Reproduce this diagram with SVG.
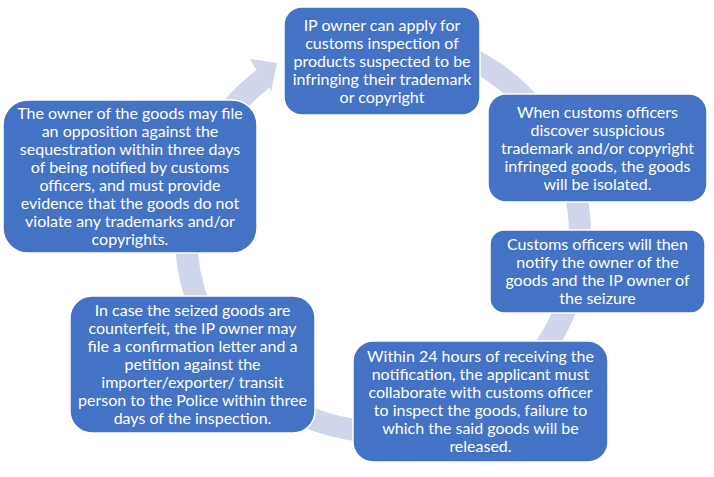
<svg xmlns="http://www.w3.org/2000/svg" width="714" height="477" viewBox="0 0 714 477">
<style>
.box{fill:#4472C4;stroke:#FFFFFF;stroke-width:1.5}
.t{font-family:Lato,"Liberation Sans",sans-serif;font-size:16px;fill:#FFFFFF;text-anchor:middle}
.ring{fill:none;stroke:#CFD5EA;stroke-width:22}
</style>
<rect width="714" height="477" fill="#FFFFFF"/>
<g id="connectors">
<path class="ring" d="M417.2,41 A197,197 0 1 1 263,78.8"/>
<polygon fill="#CFD5EA" points="256.3,70 250,59 277,63 271,92 269.7,87.5"/>
</g>
<g id="node1">
<rect class="box" x="284" y="7" width="196" height="108" rx="18"/>
<text class="t"><tspan x="382" y="30.5">IP owner can apply for</tspan><tspan x="382" y="48.5">customs inspection of</tspan><tspan x="382" y="66.5">products suspected to be</tspan><tspan x="382" y="84.5">infringing their trademark</tspan><tspan x="382" y="102.5">or copyright</tspan></text>
</g>
<g id="node2">
<rect class="box" x="488" y="94" width="219" height="108" rx="18"/>
<text class="t"><tspan x="597.5" y="117.5">When customs officers</tspan><tspan x="597.5" y="135.5">discover suspicious</tspan><tspan x="597.5" y="153.5">trademark and/or copyright</tspan><tspan x="597.5" y="171.5">infringed goods, the goods</tspan><tspan x="597.5" y="189.5">will be isolated.</tspan></text>
</g>
<g id="node3">
<rect class="box" x="490" y="230" width="215" height="83" rx="14"/>
<text class="t"><tspan x="597.5" y="250">Customs officers will then</tspan><tspan x="597.5" y="268">notify the owner of the</tspan><tspan x="597.5" y="286">goods and the IP owner of</tspan><tspan x="597.5" y="304">the seizure</tspan></text>
</g>
<g id="node4">
<rect class="box" x="353" y="341" width="255" height="121" rx="20"/>
<text class="t"><tspan x="480.5" y="362">Within 24 hours of receiving the</tspan><tspan x="480.5" y="380">notification, the applicant must</tspan><tspan x="480.5" y="398">collaborate with customs officer</tspan><tspan x="480.5" y="416">to inspect the goods, failure to</tspan><tspan x="480.5" y="434">which the said goods will be</tspan><tspan x="480.5" y="452">released.</tspan></text>
</g>
<g id="node5">
<rect class="box" x="70" y="296" width="245" height="137" rx="22"/>
<text class="t"><tspan x="192.5" y="316">In case the seized goods are</tspan><tspan x="192.5" y="334">counterfeit, the IP owner may</tspan><tspan x="192.5" y="352">file a confirmation letter and a</tspan><tspan x="192.5" y="370">petition against the</tspan><tspan x="192.5" y="388">importer/exporter/ transit</tspan><tspan x="192.5" y="406">person to the Police within three</tspan><tspan x="192.5" y="424">days of the inspection.</tspan></text>
</g>
<g id="node6">
<rect class="box" x="3" y="100" width="254" height="153" rx="25"/>
<text class="t"><tspan x="130" y="119">The owner of the goods may file</tspan><tspan x="130" y="137">an opposition against the</tspan><tspan x="130" y="155">sequestration within three days</tspan><tspan x="130" y="173">of being notified by customs</tspan><tspan x="130" y="191">officers, and must provide</tspan><tspan x="130" y="209">evidence that the goods do not</tspan><tspan x="130" y="227">violate any trademarks and/or</tspan><tspan x="130" y="245">copyrights.</tspan></text>
</g>
</svg>
